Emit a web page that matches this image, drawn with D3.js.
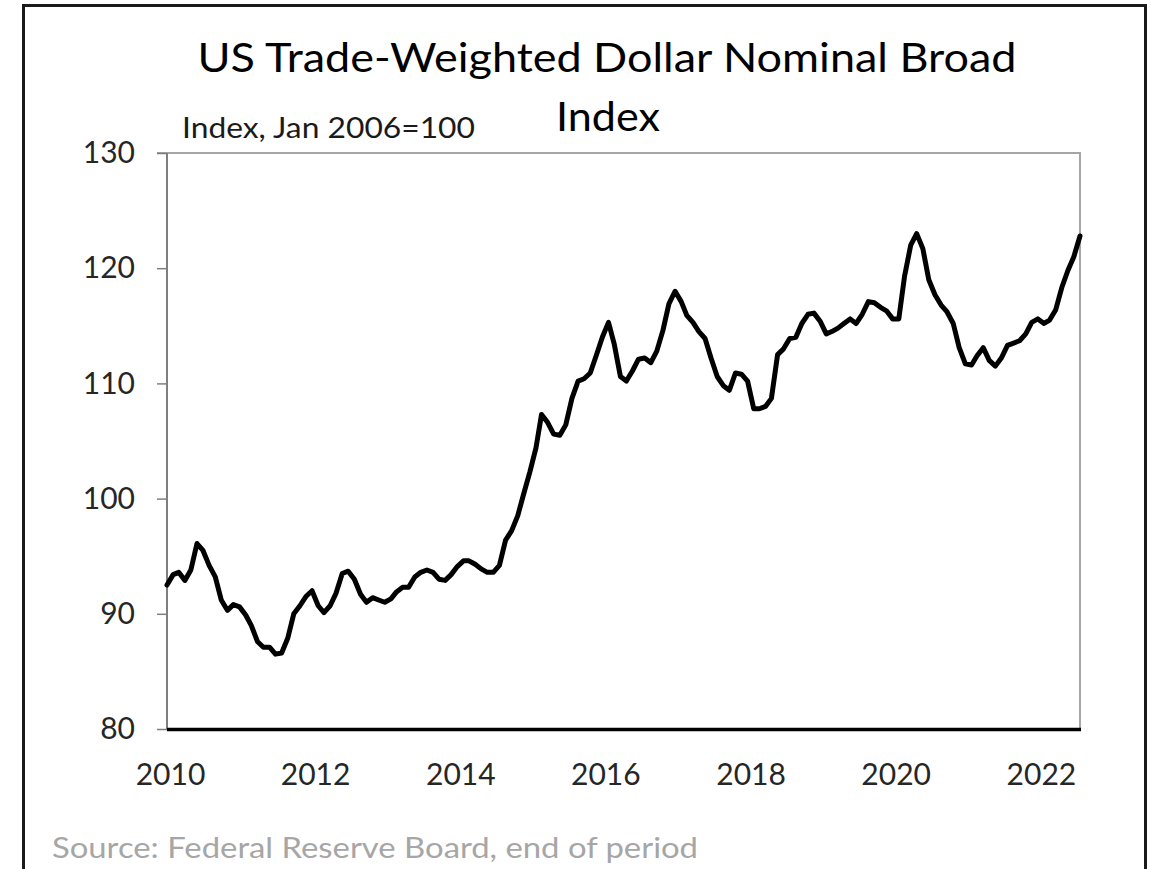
<!DOCTYPE html>
<html>
<head>
<meta charset="utf-8">
<script src="https://cdnjs.cloudflare.com/ajax/libs/d3/7.8.5/d3.min.js"></script>
<style>
  body { margin:0; background:#fff; }
  svg { display:block; font-family: Lato, "Open Sans", sans-serif; }
  .axis text { font-family: Lato, sans-serif; font-size:30px; fill:#262626; }
</style>
</head>
<body>
<div id="chart"></div>
<script>
// ---- data (monthly, end of period) ----
const startYear = 2010;
const dollarIndex = [
  92.5, 93.4, 93.6, 92.9, 93.8, 96.1, 95.5, 94.2, 93.2, 91.2, 90.3, 90.8,   // 2010
  90.6, 89.9, 89.0, 87.6, 87.1, 87.1, 86.5, 86.6, 87.9, 90.0, 90.7, 91.5,   // 2011
  92.0, 90.7, 90.1, 90.7, 91.8, 93.5, 93.7, 93.0, 91.7, 91.0, 91.4, 91.2,   // 2012
  91.0, 91.3, 91.9, 92.3, 92.3, 93.2, 93.6, 93.8, 93.6, 93.0, 92.9, 93.4,   // 2013
  94.1, 94.6, 94.6, 94.3, 93.9, 93.6, 93.6, 94.2, 96.4, 97.2, 98.5, 100.4,  // 2014
  102.3, 104.4, 107.3, 106.6, 105.6, 105.5, 106.4, 108.7, 110.2, 110.4, 110.9, 112.4, // 2015
  114.0, 115.3, 113.4, 110.6, 110.2, 111.1, 112.1, 112.2, 111.8, 112.8, 114.6, 116.9, // 2016
  118.0, 117.1, 115.9, 115.3, 114.5, 113.9, 112.2, 110.6, 109.8, 109.4, 110.9, 110.8, // 2017
  110.2, 107.8, 107.8, 108.0, 108.7, 112.5, 113.0, 113.9, 114.0, 115.2, 116.0, 116.1, // 2018
  115.4, 114.3, 114.5, 114.8, 115.2, 115.6, 115.2, 116.0, 117.1, 117.0, 116.6, 116.3, // 2019
  115.6, 115.6, 119.3, 122.0, 123.0, 121.7, 119.0, 117.7, 116.8, 116.2, 115.2, 113.1, // 2020
  111.7, 111.6, 112.4, 113.1, 112.0, 111.5, 112.2, 113.3, 113.5, 113.7, 114.3, 115.3, // 2021
  115.6, 115.2, 115.5, 116.4, 118.3, 119.8, 121.0, 122.8                              // 2022
];
const yTicks = [80, 90, 100, 110, 120, 130];
const xTickYears = [2010, 2012, 2014, 2016, 2018, 2020, 2022];
const titleLines = ["US Trade-Weighted Dollar Nominal Broad", "Index"];
const unitLabel = "Index, Jan 2006=100";
const sourceLabel = "Source: Federal Reserve Board, end of period";

const W = 1151, H = 869;
const plot = { left: 167, right: 1080, top: 153, bottom: 729 };

const series = dollarIndex.map((v, i) => ({ date: new Date(startYear, i, 1), value: v }));

const svg = d3.select("#chart").append("svg").attr("width", W).attr("height", H);
svg.append("rect").attr("width", W).attr("height", H).attr("fill", "#fff");

// outer frame (no bottom edge, picture is cropped)
svg.append("path")
  .attr("d", `M23.5,${H} V5.5 H1145.5 V${H}`)
  .attr("fill", "none").attr("stroke", "#1a1a1a").attr("stroke-width", 3);

const x = d3.scaleTime()
  .domain(d3.extent(series, d => d.date))
  .range([plot.left, plot.right]);
const y = d3.scaleLinear().domain([80, 130]).range([plot.bottom, plot.top]);

// plot area border: top and right light grey
svg.append("path")
  .attr("d", `M${plot.left - 10},${plot.top} H${plot.right} V${plot.bottom}`)
  .attr("fill", "none").attr("stroke", "#a6a6a6").attr("stroke-width", 2);

// y axis
const yAxis = svg.append("g").attr("class", "axis")
  .attr("transform", `translate(${plot.left},0)`)
  .call(d3.axisLeft(y).tickValues(yTicks).tickSize(10).tickPadding(22));
yAxis.select(".domain").attr("stroke", "#7f7f7f").attr("stroke-width", 2)
  .attr("d", `M0,${plot.top}V${plot.bottom}`);
yAxis.selectAll(".tick line").attr("stroke", "#7f7f7f").attr("stroke-width", 1.5);

// x axis
const xAxis = svg.append("g").attr("class", "axis")
  .attr("transform", `translate(0,${plot.bottom})`)
  .call(d3.axisBottom(x)
    .tickValues(xTickYears.map(yr => new Date(yr, 0, 1)))
    .tickSize(0)
    .tickFormat(d3.timeFormat("%Y")));
xAxis.select(".domain").remove();
xAxis.selectAll(".tick text").attr("y", 56).attr("dy", 0).attr("x", 3);

svg.append("line")
  .attr("x1", plot.left).attr("x2", plot.right + 1)
  .attr("y1", plot.bottom + 0.5).attr("y2", plot.bottom + 0.5)
  .attr("stroke", "#000").attr("stroke-width", 3.5);

// data line
const line = d3.line().x(d => x(d.date)).y(d => y(d.value));
svg.append("path").datum(series)
  .attr("d", line)
  .attr("fill", "none").attr("stroke", "#000")
  .attr("stroke-width", 5).attr("stroke-linejoin", "round").attr("stroke-linecap", "round");

// titles
svg.append("text").text(titleLines[0])
  .attr("x", 607).attr("y", 72).attr("text-anchor", "middle")
  .attr("font-size", 40).attr("fill", "#000")
  .attr("textLength", 819).attr("lengthAdjust", "spacingAndGlyphs");
svg.append("text").text(titleLines[1])
  .attr("x", 608).attr("y", 131).attr("text-anchor", "middle")
  .attr("font-size", 40).attr("fill", "#000")
  .attr("textLength", 104).attr("lengthAdjust", "spacingAndGlyphs");

svg.append("text").text(unitLabel)
  .attr("x", 182).attr("y", 138)
  .attr("font-size", 28).attr("fill", "#1a1a1a")
  .attr("textLength", 293).attr("lengthAdjust", "spacingAndGlyphs");

svg.append("text").text(sourceLabel)
  .attr("x", 52).attr("y", 858)
  .attr("font-size", 29).attr("fill", "#a6a6a6")
  .attr("textLength", 646).attr("lengthAdjust", "spacingAndGlyphs");
</script>
</body>
</html>
